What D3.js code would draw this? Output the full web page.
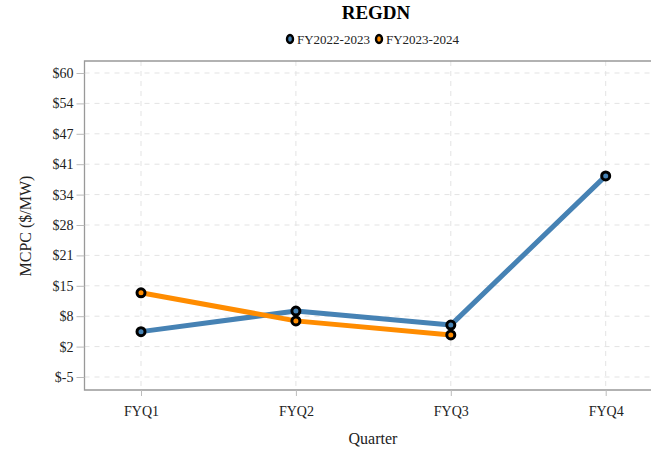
<!DOCTYPE html>
<html>
<head>
<meta charset="utf-8">
<script src="https://cdn.jsdelivr.net/npm/d3@7"></script>
<style>
  body { margin: 0; background: #fff; }
  text { font-family: "Liberation Serif", "DejaVu Serif", serif; fill: #222; }
</style>
</head>
<body>
<script>
// quarters on the x axis
var quarters = ["FYQ1", "FYQ2", "FYQ3", "FYQ4"];
// MCPC values per fiscal year ($/MW)
var fy2223 = [4.7, 9.1, 6.1, 38.0];
var fy2324 = [13.0, 7.0, 4.0];
var seriesNames = ["FY2022-2023", "FY2023-2024"];
// y tick values (labels are rounded to whole dollars)
var yTicks = [-5, 1.5, 8, 14.5, 21, 27.5, 34, 40.5, 47, 53.5, 60];

var w = 651, h = 453;
var plotL = 84.5, plotR = 651, plotT = 61, plotB = 390;
var colors = ["#4682b4", "#ff8c00"];

var svg = d3.select("body").append("svg")
  .attr("width", w)
  .attr("height", h);

var x = d3.scalePoint()
  .domain(quarters)
  .range([141, 605.7]);

var y = d3.scaleLinear()
  .domain([-5, 60])
  .range([377, 73]);

// grid lines
svg.append("g").selectAll("line")
  .data(yTicks).enter().append("line")
  .attr("x1", plotL).attr("x2", plotR)
  .attr("y1", function(d){ return y(d); })
  .attr("y2", function(d){ return y(d); })
  .style("stroke", "#e3e3e3")
  .style("stroke-dasharray", "5,5");

svg.append("g").selectAll("line")
  .data(quarters).enter().append("line")
  .attr("y1", plotT).attr("y2", plotB)
  .attr("x1", function(d){ return x(d); })
  .attr("x2", function(d){ return x(d); })
  .style("stroke", "#e3e3e3")
  .style("stroke-dasharray", "5,5");

// frame (left, top, bottom)
svg.append("path")
  .attr("d", "M" + plotR + "," + plotT + "H" + plotL + "V" + plotB + "H" + plotR)
  .style("fill", "none")
  .style("stroke", "#999")
  .style("stroke-width", 1.3);

// y axis
var yAxis = d3.axisLeft(y)
  .tickValues(yTicks)
  .tickSize(8)
  .tickPadding(3)
  .tickFormat(function(d){ return "$" + d.toFixed(0); });

var gy = svg.append("g")
  .attr("transform", "translate(" + plotL + ",0)")
  .call(yAxis);
gy.select(".domain").remove();
gy.selectAll(".tick line").style("stroke", "#bbb");
gy.selectAll(".tick text").style("font-size", "14px").style("font-family", "Liberation Serif").attr("fill", "#111");

// x axis
var xAxis = d3.axisBottom(x)
  .tickSize(6)
  .tickPadding(10);

var gx = svg.append("g")
  .attr("transform", "translate(0," + plotB + ")")
  .call(xAxis);
gx.select(".domain").remove();
gx.selectAll(".tick line").style("stroke", "#bbb");
gx.selectAll(".tick text").style("font-size", "14px").style("font-family", "Liberation Serif").attr("fill", "#111");

// lines and markers
var series = [fy2223, fy2324];
var line = d3.line()
  .x(function(d, i){ return x(quarters[i]); })
  .y(function(d){ return y(d); });

series.forEach(function(vals, s){
  svg.append("path")
    .datum(vals)
    .attr("d", line)
    .style("fill", "none")
    .style("stroke", colors[s])
    .style("stroke-width", 5)
    .style("stroke-linejoin", "round");
});

series.forEach(function(vals, s){
  svg.append("g").selectAll("circle")
    .data(vals).enter().append("circle")
    .attr("cx", function(d, i){ return x(quarters[i]); })
    .attr("cy", function(d){ return y(d); })
    .attr("r", 4)
    .style("fill", colors[s])
    .style("stroke", "#000")
    .style("stroke-width", 3);
});

// title
svg.append("text")
  .attr("x", 376)
  .attr("y", 19)
  .attr("text-anchor", "middle")
  .style("font-size", "19px")
  .style("font-weight", "bold")
  .style("fill", "#000")
  .text("REGDN");

// legend
var legX = [290, 379];
seriesNames.forEach(function(name, s){
  svg.append("ellipse")
    .attr("cx", legX[s])
    .attr("cy", 39)
    .attr("rx", 3)
    .attr("ry", 4)
    .style("fill", colors[s])
    .style("stroke", "#000")
    .style("stroke-width", 2.4);
  svg.append("text")
    .attr("x", legX[s] + 7)
    .attr("y", 43.5)
    .style("font-size", "13px")
    .text(name);
});

// axis titles
svg.append("text")
  .attr("x", 373)
  .attr("y", 444)
  .attr("text-anchor", "middle")
  .style("font-size", "16px")
  .text("Quarter");

svg.append("text")
  .attr("transform", "translate(31,226) rotate(-90)")
  .attr("text-anchor", "middle")
  .style("font-size", "16px")
  .text("MCPC ($/MW)");
</script>
</body>
</html>
